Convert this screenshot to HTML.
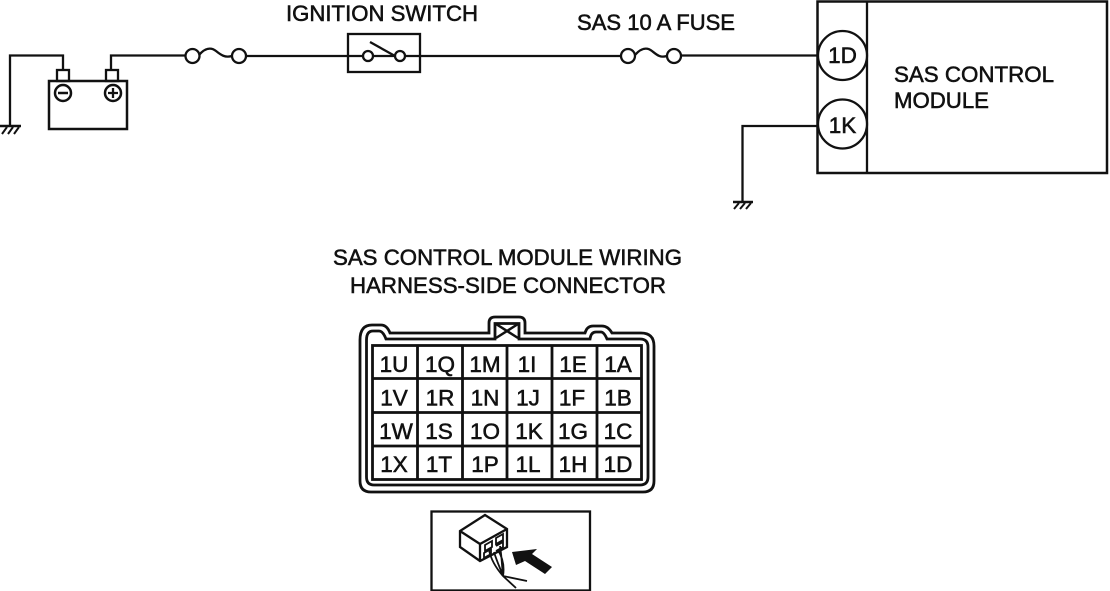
<!DOCTYPE html>
<html><head><meta charset="utf-8"><style>
html,body{margin:0;padding:0;background:#fff}
svg{display:block}
text{font-family:"Liberation Sans",sans-serif;fill:#111;stroke:#111;stroke-width:.55px}
</style></head><body>
<svg width="1110" height="591" viewBox="0 0 1110 591" xmlns="http://www.w3.org/2000/svg">
<g fill="none" stroke="#111" stroke-width="2.300">
<!-- left ground and battery -->
<path d="M63 70V55.500H10V126"/>
<path d="M0 126H21" stroke-width="2.500"/>
<path d="M7 127L2 134M13 127L8 134M19 127L14 134" stroke-width="2"/>
<rect x="49" y="81" width="78" height="48" stroke-width="2.500"/>
<rect x="57" y="70" width="12" height="11"/>
<rect x="106" y="70" width="12" height="11"/>
<circle cx="63" cy="93" r="8" stroke-width="2.500"/><path d="M58 93H68" stroke-width="2.500"/>
<circle cx="113" cy="93" r="8" stroke-width="2.500"/><path d="M108 93H118M113 88V98"/>
<path d="M111 70V55.500H185"/>
<!-- fuse 1 -->
<circle cx="192.500" cy="56" r="7"/><circle cx="239" cy="56" r="7"/>
<path d="M199 55C205 48 211 47 216 51S225 58 232 56"/>
<path d="M246 56H348"/>
<!-- ignition switch -->
<rect x="348" y="34" width="72" height="38"/>
<path d="M348 56H363M373 56H395M405 56H420"/>
<circle cx="368" cy="56" r="5"/><circle cx="400" cy="56" r="5"/>
<path d="M370 42L395 56"/>
<path d="M420 56H621"/>
<!-- fuse 2 -->
<circle cx="628" cy="56" r="7"/><circle cx="674" cy="56" r="7"/>
<path d="M635 55C641 48 647 47 652 51S660 58 667 56"/>
<path d="M681 55.500H818"/>
<!-- module -->
<rect x="817.500" y="1.500" width="289.500" height="171.500" stroke-width="2.500"/>
<path d="M867 1V173"/>
<circle cx="842.500" cy="55.500" r="24.500" fill="#fff"/>
<circle cx="842.500" cy="124" r="24.500" fill="#fff"/>
<path d="M818 126H742.500V201"/>
<path d="M733 202H753" stroke-width="2.500"/>
<path d="M739 203L734 209M745 203L740 209M751 203L746 209" stroke-width="2"/>
<!-- connector outer -->
<path d="M360 340Q360 325 372 325H381Q387 325 390 333H489V323Q489 317 495 317H519Q525 317 525 323V333H585Q587 326 593 326H602Q608 326 612 333H641Q654 333 654 346V481Q654 492 643 492H371Q360 492 360 481Z" stroke-width="2.800"/>
<path d="M366.500 340Q366.500 331 373 331H379Q383 331 386 339H495V323.500H519V339H590Q591 332 596 332H601Q604 332 607 339H640Q648 339 648 347V477Q648 485 640 485H374Q366.500 485 366.500 477Z" stroke-width="2.800"/>
<path d="M496 324L518 338M518 324L496 338" stroke-width="2.500"/>
<!-- grid -->
<rect x="372.500" y="345.500" width="269" height="134" stroke-width="2.800"/>
<path d="M417.500 345V480M462.500 345V480M507 345V480M552 345V480M597 345V480M372 378.500H642M372 412.500H642M372 446H642" stroke-width="2.800"/>
<!-- icon -->
<rect x="431.500" y="511.500" width="158.500" height="79" stroke-width="2.300"/>
<path d="M485 515L460 531V547L480 561L507 547V529L485 515ZM460 531L480 544L507 529M480 544V561" stroke-width="2.300"/>
<path d="M485 545L492 541V547L485 551ZM484 553L491 549V554L484 558ZM496 538L503 534V540L496 544ZM496 546L503 542V547L496 551" stroke-width="1.800"/>
<path d="M489 550C491 560 496 568 503 576M494 552C497 562 501 570 503 576M500 546C502 558 502 568 503 576M498 550C504 560 504 570 503 576M503 576L516 588M503 576L527 581" stroke-width="1.800"/>
</g>
<path d="M512 552L537 549L532 554L552 567L545 574L525 561L516 565Z" fill="#111"/>
<g font-size="21">
<text x="286" y="21" font-size="22" textLength="192" lengthAdjust="spacingAndGlyphs">IGNITION SWITCH</text>
<text x="577" y="30" font-size="22" textLength="158" lengthAdjust="spacingAndGlyphs">SAS 10 A FUSE</text>
<text x="894" y="82" font-size="22.500" textLength="160" lengthAdjust="spacingAndGlyphs">SAS CONTROL</text>
<text x="894" y="108" font-size="22.500" textLength="95" lengthAdjust="spacingAndGlyphs">MODULE</text>
<text x="333" y="265" font-size="22.500" textLength="349" lengthAdjust="spacingAndGlyphs">SAS CONTROL MODULE WIRING</text>
<text x="350" y="293" font-size="22.500" textLength="316" lengthAdjust="spacingAndGlyphs">HARNESS-SIDE CONNECTOR</text>
<text x="842.500" y="63" font-size="22.500" text-anchor="middle">1D</text>
<text x="842.500" y="133" font-size="22.500" text-anchor="middle">1K</text>
</g>
<g font-size="22.500" text-anchor="middle">
<text x="394" y="372">1U</text><text x="440" y="372">1Q</text><text x="485" y="372">1M</text><text x="527" y="372">1I</text><text x="573" y="372">1E</text><text x="618" y="372">1A</text>
<text x="394" y="405.500">1V</text><text x="440" y="405.500">1R</text><text x="485" y="405.500">1N</text><text x="528" y="405.500">1J</text><text x="572" y="405.500">1F</text><text x="618" y="405.500">1B</text>
<text x="396" y="439">1W</text><text x="439" y="439">1S</text><text x="485" y="439">1O</text><text x="529" y="439">1K</text><text x="573" y="439">1G</text><text x="618" y="439">1C</text>
<text x="394" y="472">1X</text><text x="439" y="472">1T</text><text x="485" y="472">1P</text><text x="528" y="472">1L</text><text x="573" y="472">1H</text><text x="618" y="472">1D</text>
</g>
</svg>
</body></html>
